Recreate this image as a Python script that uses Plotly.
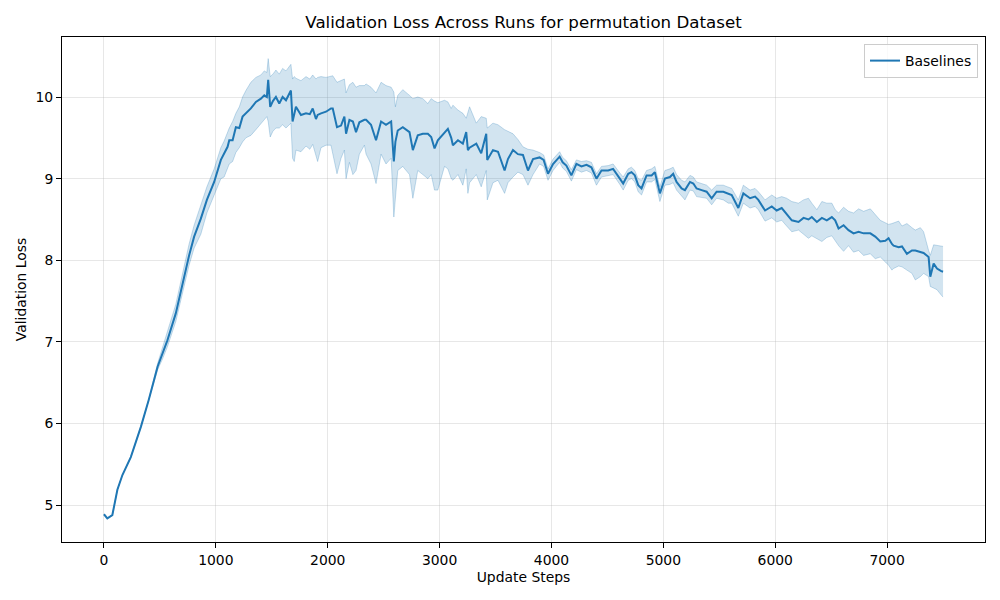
import plotly.graph_objects as go

steps = [0, 30, 75, 120, 165, 240, 330, 400, 480, 523,
         567, 642, 716, 761, 806, 866, 920, 985, 1045, 1074,
         1105, 1120, 1150, 1179, 1210, 1239, 1269, 1313, 1358, 1403,
         1433, 1456, 1468, 1486, 1510, 1537, 1567, 1597, 1627, 1671,
         1686, 1701, 1716, 1761, 1806, 1840, 1866, 1895, 1910, 1940,
         1985, 2029, 2045, 2083, 2119, 2149, 2164, 2194, 2225, 2253,
         2283, 2328, 2343, 2387, 2432, 2477, 2521, 2567, 2591, 2605,
         2626, 2671, 2731, 2761, 2805, 2850, 2895, 2925, 2955, 2984,
         3044, 3074, 3104, 3119, 3164, 3208, 3238, 3253, 3268, 3328,
         3372, 3417, 3426, 3477, 3522, 3581, 3611, 3656, 3700, 3745,
         3790, 3835, 3894, 3930, 3969, 4014, 4073, 4100, 4133, 4178,
         4223, 4268, 4313, 4357, 4402, 4447, 4507, 4551, 4611, 4641,
         4686, 4715, 4745, 4775, 4805, 4850, 4895, 4924, 4969, 5014,
         5059, 5088, 5118, 5163, 5193, 5238, 5268, 5297, 5342, 5387,
         5432, 5476, 5536, 5581, 5611, 5670, 5715, 5775, 5820, 5849,
         5909, 5969, 6013, 6058, 6102, 6148, 6208, 6253, 6297, 6327,
         6372, 6417, 6461, 6506, 6536, 6566, 6611, 6655, 6700, 6745,
         6790, 6850, 6894, 6939, 6984, 7013, 7043, 7058, 7103, 7133,
         7177, 7222, 7252, 7297, 7326, 7371, 7386, 7416, 7446, 7480,
         7500]

mean_loss = [4.89, 4.84, 4.88, 5.19, 5.37, 5.59, 5.96, 6.29, 6.70, 6.86,
             7.02, 7.35, 7.80, 8.06, 8.29, 8.51, 8.74, 8.96, 9.23, 9.30,
             9.39, 9.47, 9.47, 9.63, 9.62, 9.76, 9.80, 9.86, 9.94, 9.98,
             10.02, 10.00, 10.21, 9.88, 9.95, 10.00, 9.92, 10.00, 9.96, 10.08,
             9.70, 9.80, 9.88, 9.78, 9.80, 9.79, 9.86, 9.73, 9.78, 9.80,
             9.82, 9.86, 9.86, 9.63, 9.65, 9.76, 9.55, 9.72, 9.70, 9.57,
             9.69, 9.72, 9.72, 9.66, 9.47, 9.70, 9.66, 9.70, 9.21, 9.45,
             9.59, 9.63, 9.57, 9.35, 9.53, 9.55, 9.55, 9.51, 9.37, 9.47,
             9.57, 9.61, 9.50, 9.41, 9.47, 9.43, 9.57, 9.35, 9.38, 9.43,
             9.31, 9.55, 9.23, 9.35, 9.33, 9.10, 9.24, 9.35, 9.30, 9.29,
             9.10, 9.24, 9.26, 9.23, 9.06, 9.18, 9.27, 9.20, 9.16, 9.04,
             9.18, 9.15, 9.17, 9.14, 9.00, 9.10, 9.10, 9.12, 9.00, 8.94,
             9.06, 9.08, 9.04, 8.92, 8.88, 9.04, 9.04, 9.08, 8.82, 9.00,
             9.02, 9.06, 8.96, 8.88, 8.86, 8.96, 8.94, 8.88, 8.86, 8.84,
             8.76, 8.84, 8.84, 8.82, 8.80, 8.64, 8.82, 8.76, 8.78, 8.74,
             8.61, 8.66, 8.61, 8.64, 8.57, 8.49, 8.47, 8.52, 8.50, 8.53,
             8.47, 8.52, 8.49, 8.53, 8.49, 8.39, 8.43, 8.37, 8.33, 8.35,
             8.33, 8.33, 8.29, 8.23, 8.24, 8.27, 8.20, 8.18, 8.16, 8.17,
             8.08, 8.12, 8.12, 8.10, 8.09, 8.04, 7.80, 7.96, 7.90, 7.87,
             7.86]

lower_loss = [4.89, 4.84, 4.88, 5.19, 5.37, 5.59, 5.96, 6.29, 6.66, 6.79,
              6.94, 7.25, 7.68, 7.94, 8.15, 8.32, 8.58, 8.80, 9.00, 9.02,
              9.12, 9.18, 9.21, 9.32, 9.38, 9.45, 9.50, 9.53, 9.60, 9.68,
              9.72, 9.76, 9.70, 9.51, 9.58, 9.62, 9.62, 9.66, 9.62, 9.68,
              9.25, 9.21, 9.35, 9.33, 9.40, 9.36, 9.42, 9.30, 9.21, 9.38,
              9.41, 9.41, 9.30, 9.06, 9.25, 9.35, 9.00, 9.20, 9.05, 9.10,
              9.30, 9.41, 9.30, 9.18, 8.94, 9.30, 9.18, 9.25, 8.53, 8.80,
              9.10, 9.15, 9.05, 8.76, 9.10, 9.05, 9.00, 9.05, 8.86, 8.86,
              9.15, 9.12, 9.00, 8.98, 9.05, 8.92, 9.12, 8.82, 8.95, 9.05,
              8.90, 9.10, 8.74, 8.95, 8.98, 8.82, 8.95, 9.02, 9.08, 9.05,
              8.92, 9.05, 9.18, 9.15, 8.98, 9.10, 9.20, 9.13, 9.09, 8.97,
              9.11, 9.08, 9.10, 9.07, 8.92, 9.02, 9.04, 9.05, 8.93, 8.86,
              8.98, 9.00, 8.96, 8.84, 8.80, 8.96, 8.96, 8.99, 8.72, 8.92,
              8.93, 8.95, 8.86, 8.78, 8.74, 8.86, 8.85, 8.78, 8.77, 8.76,
              8.68, 8.76, 8.74, 8.70, 8.70, 8.54, 8.70, 8.64, 8.66, 8.62,
              8.48, 8.52, 8.47, 8.49, 8.42, 8.35, 8.37, 8.32, 8.27, 8.30,
              8.26, 8.23, 8.28, 8.30, 8.24, 8.18, 8.11, 8.18, 8.10, 8.12,
              8.06, 8.08, 8.02, 8.04, 7.98, 7.94, 7.88, 7.90, 7.93, 7.92,
              7.88, 7.84, 7.76, 7.80, 7.84, 7.80, 7.68, 7.66, 7.64, 7.58,
              7.55]

upper_loss = [4.89, 4.84, 4.88, 5.19, 5.37, 5.59, 5.96, 6.29, 6.74, 6.93,
              7.11, 7.46, 7.92, 8.20, 8.43, 8.68, 8.90, 9.12, 9.38, 9.46,
              9.58, 9.62, 9.70, 9.80, 9.88, 10.00, 10.08, 10.18, 10.24, 10.27,
              10.32, 10.30, 10.47, 10.25, 10.28, 10.33, 10.28, 10.35, 10.32, 10.40,
              10.22, 10.25, 10.23, 10.20, 10.25, 10.22, 10.27, 10.22, 10.24, 10.25,
              10.24, 10.25, 10.26, 10.18, 10.20, 10.22, 10.05, 10.15, 10.18, 10.12,
              10.14, 10.14, 10.16, 10.12, 10.05, 10.18, 10.14, 10.12, 10.06, 9.88,
              10.02, 10.09, 10.02, 9.98, 10.00, 9.98, 9.92, 9.98, 9.95, 9.93,
              9.96, 9.94, 9.86, 9.90, 9.84, 9.80, 9.74, 9.80, 9.88, 9.68,
              9.76, 9.74, 9.62, 9.68, 9.66, 9.60, 9.58, 9.55, 9.48, 9.39,
              9.36, 9.35, 9.32, 9.29, 9.12, 9.24, 9.33, 9.26, 9.22, 9.11,
              9.23, 9.21, 9.22, 9.20, 9.06, 9.15, 9.16, 9.18, 9.07, 9.02,
              9.12, 9.14, 9.10, 9.00, 8.98, 9.10, 9.12, 9.15, 8.90, 9.10,
              9.12, 9.14, 9.05, 8.98, 8.96, 9.04, 9.02, 8.96, 8.94, 8.92,
              8.86, 8.92, 8.92, 8.90, 8.88, 8.74, 8.92, 8.86, 8.88, 8.84,
              8.74, 8.80, 8.76, 8.78, 8.76, 8.72, 8.70, 8.74, 8.76, 8.70,
              8.62, 8.72, 8.70, 8.70, 8.62, 8.58, 8.65, 8.60, 8.58, 8.63,
              8.60, 8.63, 8.56, 8.49, 8.46, 8.44, 8.45, 8.46, 8.48, 8.42,
              8.45, 8.40, 8.37, 8.40, 8.35, 8.12, 8.06, 8.19, 8.18, 8.17,
              8.17]

assert len(steps) == len(mean_loss) == len(lower_loss) == len(upper_loss)

x_ticks = [0, 1000, 2000, 3000, 4000, 5000, 6000, 7000]
y_ticks = [5, 6, 7, 8, 9, 10]

C0 = "#1f77b4"
fig = go.Figure()
fig.add_trace(go.Scatter(x=steps, y=lower_loss, mode="lines",
                         line=dict(color="rgba(31,119,180,0.25)", width=1),
                         showlegend=False, hoverinfo="skip"))
fig.add_trace(go.Scatter(x=steps, y=upper_loss, mode="lines", fill="tonexty",
                         fillcolor="rgba(31,119,180,0.2)",
                         line=dict(color="rgba(31,119,180,0.25)", width=1),
                         showlegend=False, hoverinfo="skip"))
fig.add_trace(go.Scatter(x=steps, y=mean_loss, mode="lines", name="Baselines",
                         line=dict(color=C0, width=2)))

font = "DejaVu Sans"
fs = 13.9
fig.update_layout(
    width=1000, height=600,
    margin=dict(l=62, r=15, t=37, b=58),
    paper_bgcolor="white", plot_bgcolor="white",
    font=dict(family=font, size=fs, color="black"),
    title=dict(text="Validation Loss Across Runs for permutation Dataset",
               x=0.5, xref="paper", xanchor="center", y=1 - 22 / 600, yanchor="middle",
               font=dict(family=font, size=16.67, color="black")),
    showlegend=True,
    legend=dict(x=0.9924, y=0.986, xanchor="right", yanchor="top",
                bgcolor="rgba(255,255,255,0.8)", bordercolor="#cccccc", borderwidth=1,
                font=dict(family=font, size=fs)),
    xaxis=dict(range=[-375, 7875], tickvals=x_ticks, ticktext=[str(v) for v in x_ticks],
               showgrid=True, gridcolor="rgba(176,176,176,0.3)", gridwidth=1,
               zeroline=False, showline=True, linecolor="black", linewidth=1, mirror=True,
               ticks="outside", ticklen=5, tickcolor="black",
               title=dict(text="Update Steps", font=dict(family=font, size=fs), standoff=5)),
    yaxis=dict(range=[4.55, 10.735], tickvals=y_ticks, ticktext=[str(v) for v in y_ticks],
               showgrid=True, gridcolor="rgba(176,176,176,0.3)", gridwidth=1,
               zeroline=False, showline=True, linecolor="black", linewidth=1, mirror=True,
               ticks="outside", ticklen=5, tickcolor="black",
               title=dict(text="Validation Loss", font=dict(family=font, size=fs), standoff=5)),
)

fig.write_html("out.html")
